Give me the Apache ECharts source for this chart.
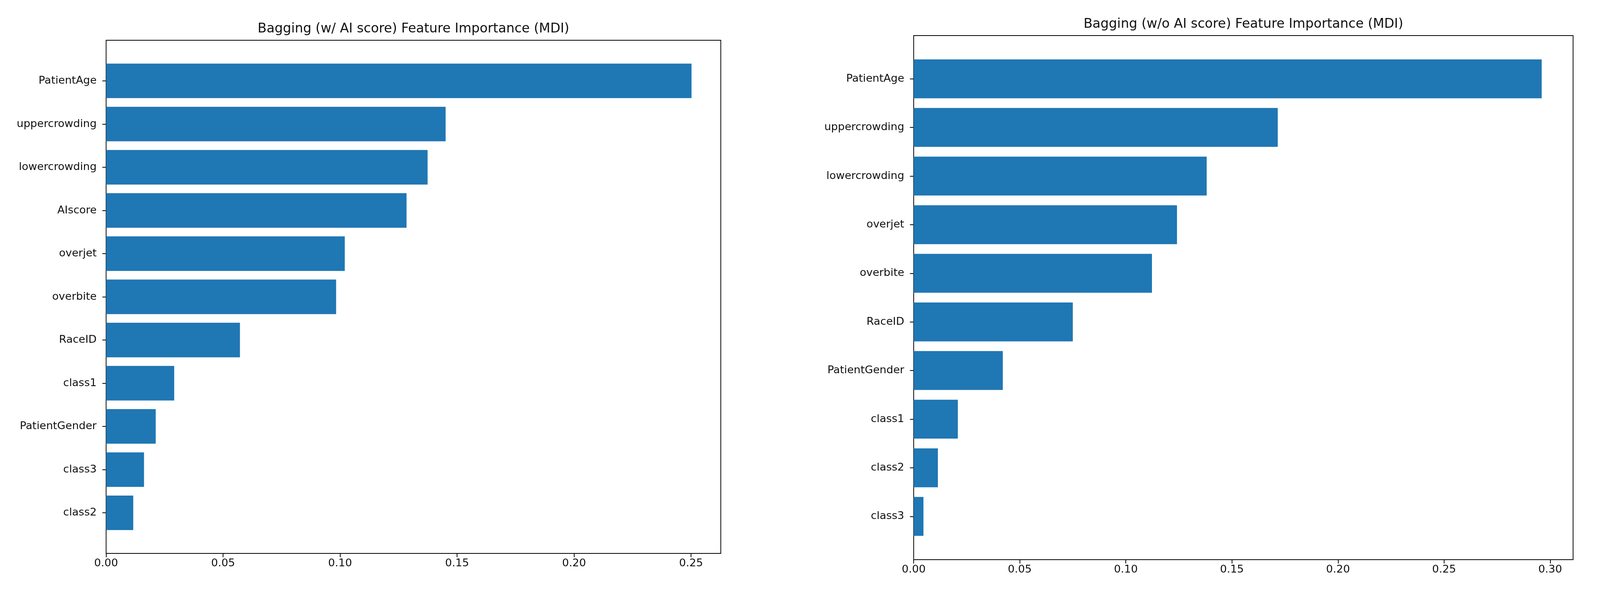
<!DOCTYPE html>
<html><head><meta charset="utf-8">
<script src="https://cdn.jsdelivr.net/npm/echarts@6/dist/echarts.min.js"></script>
<style>html,body{margin:0;padding:0;background:#fff;overflow:hidden}#c{width:100vw;height:100vh}</style>
</head><body><div id="c"></div>
<script>
// ---- data (top-to-bottom order as displayed) ----
var leftTitle = 'Bagging (w/ AI score) Feature Importance (MDI)';
var leftFeatures = ['PatientAge','uppercrowding','lowercrowding','AIscore','overjet','overbite','RaceID','class1','PatientGender','class3','class2'];
var leftValues = [0.2502, 0.1451, 0.1374, 0.1284, 0.1020, 0.0983, 0.0572, 0.0291, 0.0212, 0.0162, 0.0116];
var leftTicks = [0, 0.05, 0.10, 0.15, 0.20, 0.25];

var rightTitle = 'Bagging (w/o AI score) Feature Importance (MDI)';
var rightFeatures = ['PatientAge','uppercrowding','lowercrowding','overjet','overbite','RaceID','PatientGender','class1','class2','class3'];
var rightValues = [0.2960, 0.1716, 0.1381, 0.1241, 0.1123, 0.0750, 0.0420, 0.0208, 0.0114, 0.0046];
var rightTicks = [0, 0.05, 0.10, 0.15, 0.20, 0.25, 0.30];

var FONT = 'DejaVu Sans';
var TXT = '#111';
var BAR = '#1f77b4';

var el = document.getElementById('c');
var chart = echarts.init(el);
var SX = chart.getWidth() / 4222;
var SY = chart.getHeight() / 1548;
var S = Math.min(SX, SY);

function panel(k, title, feats, vals, ticks, box) {
  var n = feats.length;
  var bottomUp = feats.slice().reverse();
  var idx = bottomUp.map(function (_, i) { return i; });
  var vmax = Math.max.apply(null, vals) * 1.05;
  var pad = 0.4 + (n - 1 + 0.8) * 0.05;
  var grid = { left: box[0] * SX, top: box[1] * SY, width: box[2] * SX, height: box[3] * SY,
    show: true, borderColor: '#000', borderWidth: Math.max(1, 2 * S), backgroundColor: '#fff' };
  var xMain = {
    type: 'value', gridIndex: k, min: 0, max: vmax, position: 'bottom',
    axisLine: { show: false, onZero: false },
    splitLine: { show: false },
    axisTick: { show: true, length: 10 * S, lineStyle: { color: '#000', width: Math.max(1, 2 * S) }, customValues: ticks },
    axisLabel: { customValues: ticks, margin: 13 * S, fontFamily: FONT, fontSize: 28.3 * S, color: TXT,
      formatter: function (v) { return v.toFixed(2); } }
  };
  var xTop = {
    type: 'value', gridIndex: k, min: 0, max: vmax, position: 'top',
    name: title, nameLocation: 'middle', nameGap: 13 * S,
    nameTextStyle: { fontFamily: FONT, fontSize: 34.5 * S, color: TXT },
    axisLine: { show: false, onZero: false }, axisTick: { show: false }, axisLabel: { show: false }, splitLine: { show: false }
  };
  var yAx = {
    type: 'value', gridIndex: k, min: -pad, max: n - 1 + pad,
    axisLine: { show: false, onZero: false }, splitLine: { show: false },
    axisTick: { show: true, length: 10 * S, lineStyle: { color: '#000', width: Math.max(1, 2 * S) }, customValues: idx },
    axisLabel: { customValues: idx, margin: 25 * S, fontFamily: FONT, fontSize: 28.3 * S, color: TXT,
      formatter: function (v) { return bottomUp[Math.round(v)]; } }
  };
  var data = feats.map(function (f, i) { return [vals[i], n - 1 - i]; });
  var series = {
    type: 'custom', xAxisIndex: k * 2, yAxisIndex: k,
    encode: { x: 0, y: 1 },
    itemStyle: { color: BAR },
    renderItem: function (params, api) {
      var v = api.value(0), j = api.value(1);
      var s = api.coord([0, j]);
      var e = api.coord([v, j]);
      var h = api.size([0, 0.8])[1];
      return { type: 'rect', shape: { x: s[0], y: s[1] - h / 2, width: e[0] - s[0], height: h },
        style: { fill: BAR } };
    },
    data: data
  };
  return { grid: grid, xAxes: [xMain, xTop], yAxis: yAx, series: series };
}

var L = panel(0, leftTitle, leftFeatures, leftValues, leftTicks, [280, 103, 1622, 1313]);
var R = panel(1, rightTitle, rightFeatures, rightValues, rightTicks, [2411, 91, 1740, 1341]);

chart.setOption({
  backgroundColor: '#fff',
  animation: false,
  grid: [L.grid, R.grid],
  xAxis: L.xAxes.concat(R.xAxes),
  yAxis: [L.yAxis, R.yAxis],
  series: [L.series, R.series]
});
</script>
</body></html>
